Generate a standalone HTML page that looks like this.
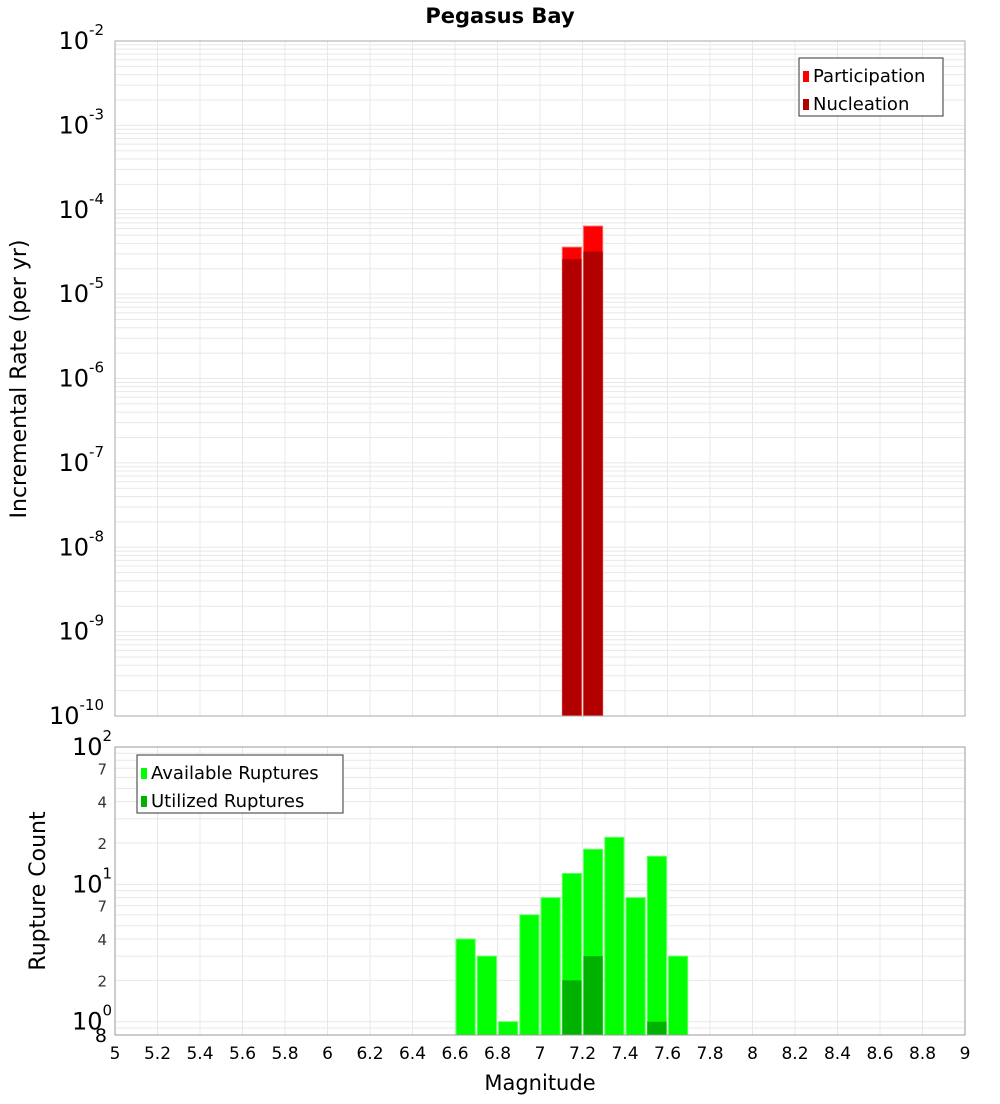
<!DOCTYPE html>
<html><head><meta charset="utf-8"><style>
body{margin:0;background:#fff;font-family:"DejaVu Sans","Liberation Sans",sans-serif;}
svg text{font-family:"DejaVu Sans","Liberation Sans",sans-serif;}
</style></head><body>
<svg id="c" width="1000" height="1100" xmlns="http://www.w3.org/2000/svg"></svg>
<script>
const rateMags=[7.15,7.25];
const participation=[3.6e-5,6.4e-5];
const nucleation=[2.6e-5,3.2e-5];
const countMags=[6.65,6.75,6.85,6.95,7.05,7.15,7.25,7.35,7.45,7.55,7.65];
const available=[4,3,1,6,8,12,18,22,8,16,3];
const utilMags=[7.15,7.25,7.55];
const utilized=[2,3,1];
const xTicks=[5,5.2,5.4,5.6,5.8,6,6.2,6.4,6.6,6.8,7,7.2,7.4,7.6,7.8,8,8.2,8.4,8.6,8.8,9];

const NS="http://www.w3.org/2000/svg";
const svg=document.getElementById('c');
function el(t,a,p){const e=document.createElementNS(NS,t);for(const k in a)e.setAttribute(k,a[k]);(p||svg).appendChild(e);return e;}
const L=115,R=965;
const x=m=>L+(m-5)/4*(R-L);
const T1=41,B1=716;
const y1=v=>T1+(-2-Math.log10(v))*(B1-T1)/8;
const T2=747,B2=1035,lmin=Math.log10(0.8);
const y2=v=>B2-(Math.log10(v)-lmin)*(B2-T2)/(2-lmin);

// title
let t=el('text',{x:500,y:23,'text-anchor':'middle','font-size':21,'font-weight':'bold'});


t.textContent='Pegasus Bay';

// grids
const g1=el('g',{});


for(let d=-10;d<-2;d++)for(let k=1;k<10;k++){const yy=y1(k*Math.pow(10,d));el('line',{x1:L,x2:R,y1:yy,y2:yy,stroke:'#e8e8e8','stroke-width':1},g1);}
const g2=el('g',{});


for(let d=-1;d<2;d++)for(let k=1;k<10;k++){const v=k*Math.pow(10,d);if(v<0.8)continue;const yy=y2(v);el('line',{x1:L,x2:R,y1:yy,y2:yy,stroke:'#e8e8e8','stroke-width':1},g2);}
xTicks.forEach(m=>{el('line',{x1:x(m),x2:x(m),y1:T1,y2:B1,stroke:'#e8e8e8'},g1);el('line',{x1:x(m),x2:x(m),y1:T2,y2:B2,stroke:'#e8e8e8'},g2);});

// top bars
const bw=0.09;
rateMags.forEach((m,i)=>{
 let r=el('rect',{x:x(m-bw/2),y:y1(participation[i]),width:x(m+bw/2)-x(m-bw/2),height:B1-y1(participation[i]),fill:'#ff0000',stroke:'#ff6060','stroke-width':1});
 
 
 let n=el('rect',{x:x(m-bw/2),y:y1(nucleation[i]),width:x(m+bw/2)-x(m-bw/2),height:B1-y1(nucleation[i]),fill:'#b20000'});
 
 
});
// bottom bars
countMags.forEach((m,i)=>{
 let r=el('rect',{x:x(m-bw/2),y:y2(available[i]),width:x(m+bw/2)-x(m-bw/2),height:B2-y2(available[i]),fill:'#00ff00',stroke:'#60ff60','stroke-width':1});
 
 
});
utilMags.forEach((m,i)=>{
 let r=el('rect',{x:x(m-bw/2),y:y2(utilized[i]),width:x(m+bw/2)-x(m-bw/2),height:B2-y2(utilized[i]),fill:'#00b200'});
 
 
});

// frames
el('rect',{x:L,y:T1,width:R-L,height:B1-T1,fill:'none',stroke:'#aaa'});
el('rect',{x:L,y:T2,width:R-L,height:B2-T2,fill:'none',stroke:'#999'});

// top y labels
for(let d=-10;d<=-2;d++){
 const yy=y1(Math.pow(10,d));
 let g=el('text',{x:104,y:yy+8,'text-anchor':'end','font-size':24});
 
 
 g.textContent='10';
 let s=el('tspan',{dy:-14,'font-size':15},g);s.textContent=String(d);
}
// bottom y labels
[0,1,2].forEach(d=>{
 const yy=y2(Math.pow(10,d));
 let g=el('text',{x:72,y:yy+8,'font-size':24});
 
 
 g.textContent='10';
 let s=el('tspan',{dy:-14,'font-size':15},g);s.textContent=String(d);
});
[[7,10],[4,10],[2,10],[7,1],[4,1],[2,1]].forEach(([k,m])=>{
 let g=el('text',{x:107,y:y2(k*m)+6,'text-anchor':'end','font-size':15,fill:'#333'});
 
 
 g.textContent=k;
});
t=el('text',{x:107,y:B2+7,'text-anchor':'end','font-size':19});


t.textContent='8';

// x labels
xTicks.forEach(m=>{
 let g=el('text',{x:x(m),y:1059,'text-anchor':'middle','font-size':17});
 
 
 g.textContent=String(m);
});
t=el('text',{x:540,y:1090,'text-anchor':'middle','font-size':21});


t.textContent='Magnitude';
t=el('text',{x:0,y:0,'text-anchor':'middle','font-size':22,transform:'translate(26,379) rotate(-90)'});


t.textContent='Incremental Rate (per yr)';
t=el('text',{x:0,y:0,'text-anchor':'middle','font-size':22,transform:'translate(45,891) rotate(-90)'});


t.textContent='Rupture Count';

// legends
function legend(x0,y0,w,items,name){
 const g=el('g',{});
 
 
 el('rect',{x:x0,y:y0,width:w,height:58,fill:'#fff',stroke:'#333'},g);
 items.forEach(([lab,c],i)=>{
  el('rect',{x:x0+4,y:y0+13+i*28,width:6,height:11,fill:c},g);
  const tt=el('text',{x:x0+14,y:y0+24+i*28,'font-size':18},g);
  tt.textContent=lab;
 });
}
legend(799,58,144,[['Participation','#ff0000'],['Nucleation','#b20000']],'rate-legend');
legend(137,755,206,[['Available Ruptures','#00ff00'],['Utilized Ruptures','#00b200']],'count-legend');
</script>
</body></html>
